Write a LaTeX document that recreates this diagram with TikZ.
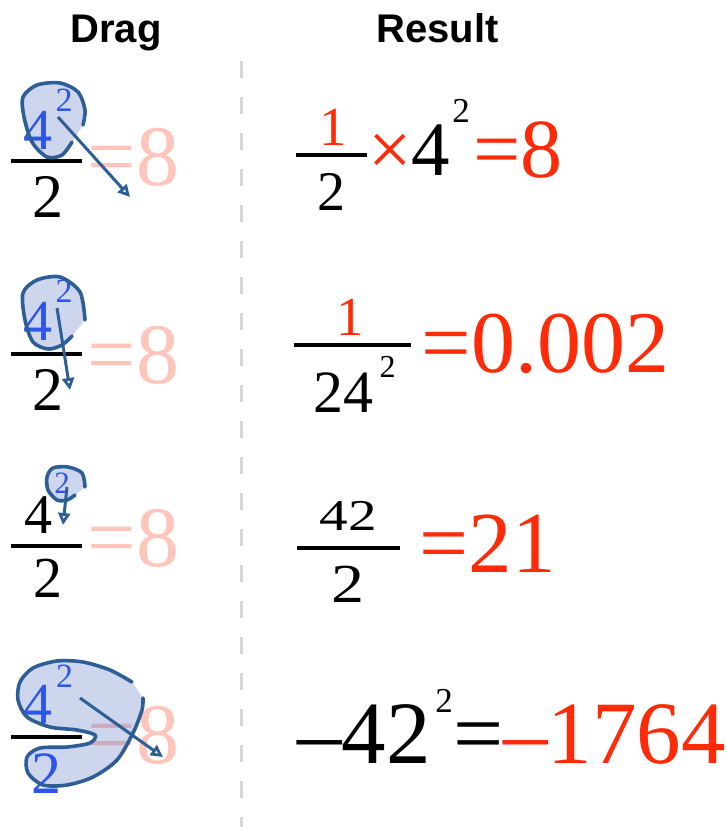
\documentclass[tikz,border=0pt]{standalone}
\usepackage{fontspec}
\setmainfont{Liberation Serif}
\newfontfamily\headfont{Liberation Sans}
\usetikzlibrary{arrows.meta}
\definecolor{dragblue}{RGB}{45,85,235}
\definecolor{blobline}{RGB}{45,95,150}
\definecolor{blobshade}{RGB}{88,118,195}
\definecolor{faintred}{RGB}{255,196,186}
\definecolor{resred}{RGB}{255,42,8}
\definecolor{dashgray}{RGB}{214,214,214}
\newcommand\fs[1]{\fontsize{#1}{#1}\selectfont}

\begin{document}
\begin{tikzpicture}[x=1pt,y=-1pt,
  num/.style={inner sep=0pt,anchor=base},
  numw/.style={inner sep=0pt,anchor=base west},
  fracbar/.style={line width=4.5pt},
  blobfill/.style={fill=blobshade,fill opacity=0.3},
  blobedge/.style={draw=blobline,line width=3.6pt,line cap=round},
  dragarrow/.style={draw=blobline,line width=3pt,-{Triangle[open,length=12pt,width=12pt,line width=2.8pt]}},
  header/.style={inner sep=0pt,anchor=base,font=\headfont\bfseries\fs{40}}]
\useasboundingbox (0,0) rectangle (726,827);
% headers and divider
\node[header] (drag) at (116,42) {Drag};
\node[header] (result) at (437.5,42) {Result};
\draw[dashgray,line width=3pt,dash pattern=on 17pt off 19pt] (241.5,61) -- (241.5,827);
% faint targets
\foreach \y/\n in {185/1,383/2,566/3,763/4}
  \node[numw,text=faintred,font=\fs{86}] (target\n) at (87.5,\y) {=8};
% selection fills
\fill[blobfill] plot[smooth] coordinates {(83,125) (85,110) (78,92) (60,83) (37,85) (23,97) (24,117) (32,142) (47,157) (62,155) (72,142)} -- cycle;
\fill[blobfill] plot[smooth] coordinates {(85,320) (80,292) (60,277) (37,280) (23,293) (25,320) (33,342) (48,349) (62,345) (72,336)} -- cycle;
\fill[blobfill] plot[smooth] coordinates {(85,487) (82,473) (68,467) (53,468) (47,477) (48,490) (57,500) (67,500) (75,495)} -- cycle;
\fill[blobfill] plot[smooth] coordinates {(132,682) (110,670) (83,662) (57,661) (33,668) (20,682) (18,700) (27,717) (50,727) (77,730) (95,735) (90,743) (67,747) (40,748) (27,757) (28,773) (43,785) (67,785) (93,777) (117,760) (133,733) (142,710) (143,698)} -- cycle;
% drag column
\foreach \y in {161,354,546,737}
  \draw[fracbar] (11,\y) -- (82,\y);
\node[num,text=dragblue,font=\fs{58}] (base1) at (38,149) {4};
\node[num,text=dragblue,font=\fs{34}] (exp1) at (64,111) {2};
\node[num,font=\fs{62}] (den1) at (47.5,217) {2};
\node[num,text=dragblue,font=\fs{58}] (base2) at (38,340) {4};
\node[num,text=dragblue,font=\fs{34}] (exp2) at (64,302) {2};
\node[num,font=\fs{62}] (den2) at (47.5,410) {2};
\node[num,font=\fs{56}] (base3) at (38,533) {4};
\node[num,text=dragblue,font=\fs{31}] (exp3) at (62,493) {2};
\node[num,font=\fs{58}] (den3) at (47.5,597) {2};
\node[num,text=dragblue,font=\fs{58}] (base4) at (38,723) {4};
\node[num,text=dragblue,font=\fs{34}] (exp4) at (64.5,687) {2};
\node[num,text=dragblue,font=\fs{60}] (den4) at (46.5,793) {2};
% selection outlines
\draw[blobedge] plot[smooth] coordinates {(83,125) (85,110) (78,92) (60,83) (37,85) (23,97) (24,117) (32,142) (47,157) (62,155) (72,142)};
\draw[blobedge] plot[smooth] coordinates {(85,320) (80,292) (60,277) (37,280) (23,293) (25,320) (33,342) (48,349) (62,345) (72,336)};
\draw[blobedge] plot[smooth] coordinates {(85,487) (82,473) (68,467) (53,468) (47,477) (48,490) (57,500) (67,500) (75,495)};
\draw[blobedge] plot[smooth] coordinates {(132,682) (110,670) (83,662) (57,661) (33,668) (20,682) (18,700) (27,717) (50,727) (77,730) (95,735) (90,743) (67,747) (40,748) (27,757) (28,773) (43,785) (67,785) (93,777) (117,760) (133,733) (142,710) (143,698)};
% drag arrows
\coordinate (grab1) at (58,117);  \coordinate (drop1) at (130,197);
\coordinate (grab2) at (57,308);  \coordinate (drop2) at (70,390);
\coordinate (grab3) at (67,487);  \coordinate (drop3) at (63,525);
\coordinate (grab4) at (80,698);  \coordinate (drop4) at (163,757);
\foreach \n in {1,...,4}
  \draw[dragarrow] (grab\n) -- (drop\n);
% result row 1
\node[num,text=resred,font=\fs{55}] (res1num) at (333,145) {1};
\draw[fracbar] (296,155) -- (367,155);
\node[num,font=\fs{56}] (res1den) at (331.5,210) {2};
\node[numw,font=\fs{77}] (res1mul) at (368,175) {\textcolor{resred}{×}4};
\node[num,font=\fs{35}] (res1exp) at (461,122) {2};
\node[numw,text=resred,font=\fs{84}] (res1val) at (473,177) {=8};
% result row 2
\node[num,text=resred,font=\fs{55}] (res2num) at (350,335) {1};
\draw[fracbar] (294,345) -- (411,345);
\node[num,font=\fs{60}] (res2den) at (343,412) {24};
\node[num,font=\fs{32}] (res2exp) at (387.5,377) {2};
\node[numw,text=resred,font=\fs{88}] (res2val) at (421.5,372) {=0.002};
% result row 3
\node[num,font=\fs{44}] (res3num) at (348.5,530) {\scalebox{1.3}[1]{42}};
\draw[fracbar] (297,548) -- (400,548);
\node[num,font=\fs{55}] (res3den) at (347.5,602) {\scalebox{1.2}[1]{2}};
\node[numw,text=resred,font=\fs{87}] (res3val) at (419.5,572) {=21};
% result row 4
\node[numw,font=\fs{89}] (res4base) at (297,763) {–42};
\node[num,font=\fs{35}] (res4exp) at (444,712) {2};
\node[numw,font=\fs{89}] (res4val) at (453,763) {=\textcolor{resred}{–1764}};
\end{tikzpicture}
\end{document}
